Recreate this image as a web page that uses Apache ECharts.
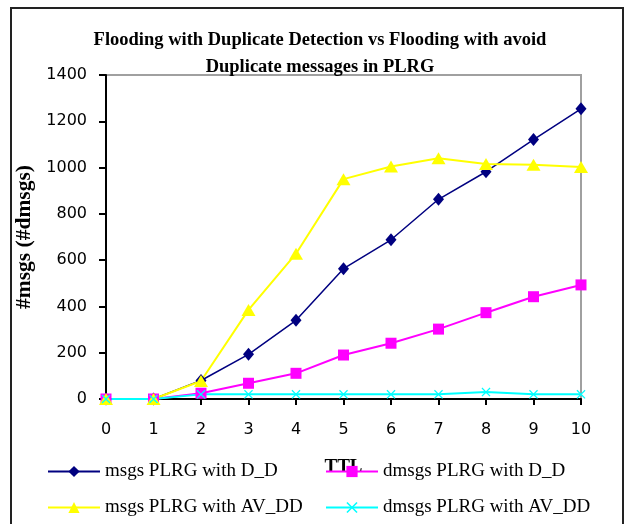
<!DOCTYPE html>
<html>
<head>
<meta charset="utf-8">
<script src="https://cdn.jsdelivr.net/npm/echarts@6/dist/echarts.min.js"></script>
<style>
  html, body { margin: 0; padding: 0; background: #fff; }
  #chart { width: 626px; height: 524px; }
</style>
</head>
<body>
<div id="chart"></div>
<script>
// TTL values on the x axis
var ttl = ['0', '1', '2', '3', '4', '5', '6', '7', '8', '9', '10']

// series values
var msgsDD = [0, 0, 80, 193, 340, 563, 688, 863, 982, 1121, 1254]
var dmsgsDD = [0, 0, 25, 68, 111, 190, 241, 302, 373, 442, 493]
var msgsAV = [0, 0, 78, 385, 628, 950, 1005, 1040, 1015, 1012, 1002]
var dmsgsAV = [0, 0, 20, 20, 20, 20, 20, 20, 30, 20, 20]

var names = [
  'msgs PLRG with D_D',
  'dmsgs PLRG with D_D',
  'msgs PLRG with AV_DD',
  'dmsgs PLRG with AV_DD'
]

var crossPath = 'path://M0,1L1,0L5,4L9,0L10,1L6,5L10,9L9,10L5,6L1,10L0,9L4,5Z'

var chart = echarts.init(document.getElementById('chart'), null, { renderer: 'canvas' })

// one legend box per entry, 2 x 2 grid
var legendPos = [[47, 462], [325, 462], [47, 498], [325, 498]]
var legends = names.map(function (n, i) {
  return {
    left: legendPos[i][0],
    top: legendPos[i][1],
    padding: 0,
    itemWidth: 52,
    itemHeight: 14,
    data: [n],
    textStyle: {
      fontFamily: 'Liberation Serif',
      fontSize: 19,
      lineHeight: 18,
      color: '#000'
    }
  }
})

var axisFont = {
  fontFamily: 'DejaVu Sans',
  fontSize: 16,
  color: '#000'
}

chart.setOption({
  animation: false,
  backgroundColor: '#fff',
  title: {
    text: 'Flooding with Duplicate Detection vs Flooding with avoid\nDuplicate messages in PLRG',
    left: 315,
    top: 22,
    textAlign: 'center',
    textStyle: {
      fontFamily: 'Liberation Serif',
      fontWeight: 'bold',
      fontSize: 18.5,
      lineHeight: 27,
      color: '#000'
    }
  },
  graphic: [{
    type: 'rect',
    shape: { x: 11, y: 8, width: 612, height: 540 },
    style: { fill: 'none', stroke: '#222', lineWidth: 2 },
    silent: true
  }],
  legend: legends,
  grid: {
    left: 106,
    right: 45,
    top: 75,
    bottom: 125,
    show: true,
    borderColor: '#a0a0a0',
    borderWidth: 2
  },
  xAxis: {
    type: 'category',
    data: ttl,
    boundaryGap: false,
    name: 'TTL',
    nameLocation: 'middle',
    nameGap: 59,
    nameTextStyle: {
      fontFamily: 'Liberation Serif',
      fontWeight: 'bold',
      fontSize: 19,
      color: '#000'
    },
    axisLine: { lineStyle: { color: '#000', width: 2 } },
    axisTick: { length: 6, lineStyle: { color: '#000', width: 2 } },
    axisLabel: Object.assign({ margin: 23 }, axisFont),
    splitLine: { show: false }
  },
  yAxis: {
    type: 'value',
    min: 0,
    max: 1400,
    interval: 200,
    name: '#msgs (#dmsgs)',
    nameLocation: 'middle',
    nameGap: 60,
    nameTextStyle: {
      fontFamily: 'Liberation Serif',
      fontWeight: 'bold',
      fontSize: 21.5,
      color: '#000'
    },
    axisLine: { show: true, lineStyle: { color: '#000', width: 2 } },
    axisTick: { show: true, length: 7, lineStyle: { color: '#000', width: 2 } },
    axisLabel: Object.assign({
      margin: 19,
      formatter: function (v) { return String(v) }
    }, axisFont),
    splitLine: { show: false }
  },
  series: [{
    name: names[0],
    type: 'line',
    data: msgsDD,
    clip: false,
    symbol: 'diamond',
    symbolSize: [11, 13],
    lineStyle: { color: '#000080', width: 1.5 },
    itemStyle: { color: '#000080' }
  }, {
    name: names[1],
    type: 'line',
    data: dmsgsDD,
    clip: false,
    symbol: 'rect',
    symbolSize: 11,
    lineStyle: { color: '#ff00ff', width: 2 },
    itemStyle: { color: '#ff00ff' }
  }, {
    name: names[2],
    type: 'line',
    data: msgsAV,
    clip: false,
    symbol: 'triangle',
    symbolSize: [14, 12],
    lineStyle: { color: '#ffff00', width: 2 },
    itemStyle: { color: '#ffff00' }
  }, {
    name: names[3],
    type: 'line',
    data: dmsgsAV,
    clip: false,
    symbol: crossPath,
    symbolSize: 9,
    lineStyle: { color: '#00ffff', width: 2 },
    itemStyle: { color: '#00ffff' }
  }]
})
</script>
</body>
</html>
